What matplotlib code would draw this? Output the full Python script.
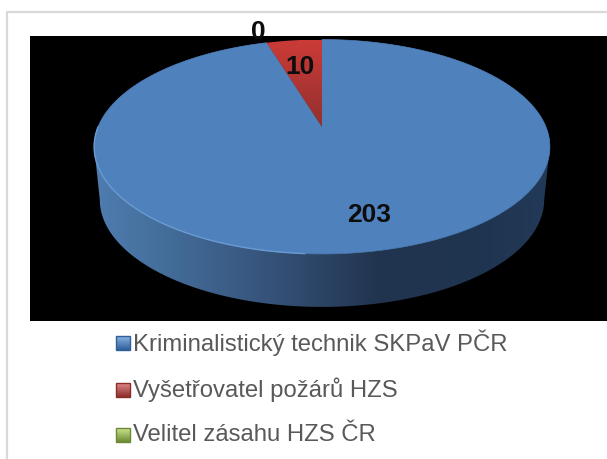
import numpy as np
import matplotlib
matplotlib.use('Agg')
import matplotlib.pyplot as plt
from matplotlib.colors import LinearSegmentedColormap
from matplotlib.patches import Polygon, Rectangle

categories = ['Kriminalistický technik SKPaV PČR', 'Vyšetřovatel požárů HZS', 'Velitel zásahu HZS ČR']
values = [203, 10, 0]
value_labels = ['203', '10', '0']
colors = ['#4F81BD', '#C0504D', '#9BBB59']

plt.rcParams['font.family'] = ['Liberation Sans', 'DejaVu Sans']

fig = plt.figure(figsize=(6.07, 4.59), dpi=100)
ax = fig.add_axes([0, 0, 1, 1])
ax.set_xlim(0, 607)
ax.set_ylim(459, 0)
ax.axis('off')


# tilted disc: circle -> picture through a small perspective map
def rim(theta, cx=322., sx=224., a=-80.2, b=127., c=0.184):
  u = np.sin(theta)
  v = np.cos(theta)
  d = c*v + 1
  return cx + sx*u/d, (a*v + b)/d


def vgrad(x0, x1, y0, y1, c0, c1, clip=None, z=2):
  cm = LinearSegmentedColormap.from_list('g', [c0, c1])
  im = ax.imshow(np.linspace(0, 1, 64).reshape(-1, 1), cmap=cm, extent=[x0, x1, y1, y0],
                 aspect='auto', zorder=z, interpolation='bilinear')
  if clip is not None:
    im.set_clip_path(clip)
  return im


# frame and black plot area
ax.plot([7, 7, 607], [459, 12, 12], color='#D9D9D9', linewidth=1.6, zorder=1)
ax.add_patch(Rectangle((30, 36), 577, 285, facecolor='black', edgecolor='none', zorder=1))

# side wall, from the widest point of the rim round the front
t = np.linspace(np.pi/2 + 0.185, 3*np.pi/2 - 0.185, 200)
xtop, ytop = rim(t)
xbot = 322 + (xtop - 322)*0.975
ybot = ytop + 53
side_pts = np.column_stack([np.r_[xtop, xbot[::-1]], np.r_[ytop, ybot[::-1]]])
side = Polygon(side_pts, closed=True, transform=ax.transData, facecolor='none', edgecolor='none')
ax.add_patch(side)
cm = LinearSegmentedColormap.from_list('s', [(0, '#4F7DB0'), (0.12, '#46719F'), (0.35, '#38577F'),
                                             (0.62, '#22354F'), (0.85, '#1F3450'), (1, '#223A58')])
im = ax.imshow(np.linspace(0, 1, 256).reshape(1, -1), cmap=cm, extent=[93, 550, 340, 100],
               aspect='auto', zorder=2, interpolation='bilinear')
im.set_clip_path(side)

# top face, slices start at 12 o'clock and run clockwise; the red one ends there
total = float(sum(values))
start = 0.
for val, col in zip(values, colors):
  sweep = 2*np.pi*val/total
  t = np.linspace(start, start + sweep, 300)
  x, y = rim(t)
  pts = np.column_stack([np.r_[322, x], np.r_[127, y]])
  if val == 10:
    poly = Polygon(pts, closed=True, facecolor='none', edgecolor='none', transform=ax.transData)
    ax.add_patch(poly)
    vgrad(250, 340, 40, 127, '#CB3B38', '#93302E', clip=poly, z=4)
  elif val > 0:
    ax.add_patch(Polygon(pts, closed=True, facecolor=col, edgecolor=col, linewidth=0.5, zorder=3))
  start += sweep

# light bevel along the front left edge of the disc
t = np.linspace(np.pi*1.02, np.pi*1.5, 200)
x, y = rim(t)
ax.plot(x, y, color='#6F9FD8', linewidth=1.0, zorder=5, alpha=0.9)

# data labels
label_pos = [(369, 215), (300, 67), (258, 32)]
for txt, (lx, ly) in zip(value_labels, label_pos):
  ax.text(lx, ly, txt, fontsize=19, fontweight='bold', color='#0D0D0D', ha='center', va='center', zorder=6)

# legend
legend_y = [343, 390, 435]
key_top = ['#8DB4E3', '#E08A88', '#CFE58F']
key_bot = ['#2F5F99', '#8C2D2B', '#6C8A35']
for name, ly, c0, c1 in zip(categories, legend_y, key_top, key_bot):
  vgrad(116, 130, ly - 7, ly + 7, c0, c1, z=3)
  ax.add_patch(Rectangle((116, ly - 7), 14, 14, facecolor='none', edgecolor=c1, linewidth=1, zorder=4))
  ax.text(133, ly, name, fontsize=17.2, color='#595959', ha='left', va='center', zorder=3)

ax.set_xlim(0, 607)
ax.set_ylim(459, 0)
fig.savefig('out.png', dpi=100, facecolor='white')
